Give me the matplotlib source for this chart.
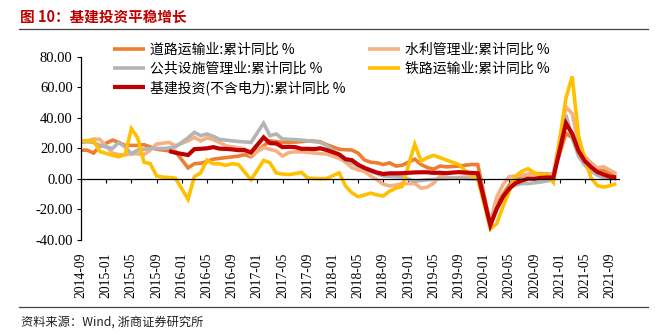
import numpy as np
import pandas as pd
import matplotlib
matplotlib.use("Agg")
import matplotlib.pyplot as plt

plt.rcParams['font.family'] = ['Noto Sans CJK SC', 'DejaVu Sans']

nan = np.nan

# monthly, 2014-09 .. 2021-10 (January has no cumulative figure)
months = pd.period_range('2014-09', '2021-10', freq='M').strftime('%Y-%m').tolist()

road = [18.9, 18.9, 17.0, 21.5,
        nan, 25.5, 24.0, 22.0, 22.0, 22.0, 22.5, 21.0, 19.5, 19.0, 18.5, 18.0,
        nan, 7.3, 10.0, 10.3, 11.5, 13.0, 13.5, 14.0, 14.5, 15.0, 16.0, 14.6,
        nan, 21.8, 25.0, 24.5, 24.0, 24.0, 24.2, 24.5, 25.0, 24.8, 24.4, 22.5,
        nan, 19.5, 19.2, 19.0, 17.0, 12.5, 11.0, 10.6, 9.5, 10.6, 8.5, 9.0,
        nan, 13.0, 9.5, 7.5, 6.5, 8.5, 8.0, 8.2, 8.4, 9.0, 9.5, 9.5,
        nan, -30.0, -17.0, -10.0, -4.0, 0.0, 2.0, 3.0, 3.5, 3.5, 3.2, 3.0,
        nan, 30.0, 27.0, 17.0, 12.0, 9.0, 6.5, 5.5, 4.0, 3.0]

water = [24.0, 25.0, 26.2, 26.0,
         nan, 17.0, 16.0, 16.0, 16.5, 16.5, 16.0, 19.0, 22.9, 23.5, 24.0, 21.8,
         nan, 25.0, 27.3, 25.0, 27.0, 25.8, 24.0, 21.8, 21.0, 20.5, 19.5, 15.5,
         nan, 20.6, 19.5, 18.4, 15.0, 17.3, 17.8, 17.8, 17.5, 17.0, 16.6, 16.4,
         nan, 13.5, 11.0, 7.5, 6.0, 5.0, 2.0, -0.5, -3.5, -4.5, -4.0, -3.0,
         nan, -3.0, -6.0, -5.3, -2.7, 1.8, 1.0, 0.6, 1.0, 1.3, 1.3, 1.0,
         nan, -28.0, -12.0, -3.8, 1.5, 2.0, 2.5, 3.0, 3.0, 3.0, 3.0, 3.5,
         nan, 47.3, 42.9, 22.9, 15.0, 10.6, 7.3, 8.0, 5.8, 3.5]

public = [24.0, 24.4, 24.0, 22.0,
          nan, 20.0, 24.0, 21.0, 16.5, 19.0, 19.5, 20.0, 20.0, 20.0, 20.3, 21.0,
          nan, 27.0, 30.6, 28.4, 29.5, 28.0, 26.0, 25.5, 25.0, 24.6, 24.3, 24.0,
          nan, 36.6, 28.4, 29.5, 26.2, 26.0, 25.8, 25.5, 25.0, 24.5, 24.0, 22.0,
          nan, 15.5, 12.5, 10.5, 8.5, 7.0, 5.0, 3.5, 2.0, 1.8, 1.5, 1.3,
          nan, -1.5, -1.0, -0.5, -0.3, 0.0, 0.2, 0.5, 0.6, 0.3, 0.0, -0.2,
          nan, -29.0, -19.0, -12.0, -5.5, -4.0, -3.0, -3.0, -2.5, -2.0, -1.3, -0.5,
          nan, 42.0, 27.0, 15.0, 9.0, 5.0, 2.5, 1.0, 0.5, 0.0]

rail = [25.0, 25.0, 25.0, 18.0,
        nan, 15.5, 14.6, 16.0, 33.0, 27.0, 11.0, 10.0, 2.0, 1.2, 1.0, 0.5,
        nan, -13.3, 1.5, 4.0, 12.4, 10.0, 10.0, 9.0, 10.0, 9.5, 4.5, -0.5,
        nan, 12.2, 10.6, 4.0, 3.2, 2.9, 3.5, 4.4, 0.6, 0.4, 0.2, 0.3,
        nan, 4.0, -4.5, -9.0, -11.6, -10.5, -9.3, -10.4, -11.1, -8.0, -6.0, -5.0,
        nan, 22.9, 11.8, 14.0, 15.5, 14.0, 12.5, 11.0, 9.5, 5.5, 2.5, 0.5,
        nan, -32.7, -29.3, -18.2, -8.2, 1.8, 5.1, 6.7, 4.0, 2.9, 2.9, -2.2,
        nan, 52.9, 67.3, 28.4, 12.9, 0.7, -4.4, -5.3, -4.4, -3.1]

infra = [nan, nan, nan, nan,
         nan, nan, nan, nan, nan, nan, nan, nan, nan, nan, 18.3, 17.2,
         nan, 15.7, 19.6, 19.8, 20.1, 20.9, 19.9, 19.7, 19.4, 18.9, 18.9, 17.4,
         nan, 27.3, 23.5, 23.3, 20.9, 21.1, 20.9, 19.8, 19.8, 19.6, 20.1, 19.0,
         nan, 16.1, 13.0, 12.4, 9.4, 7.3, 5.7, 4.2, 3.3, 3.7, 3.7, 3.8,
         nan, 4.3, 4.4, 4.4, 4.0, 4.1, 3.8, 4.2, 4.5, 4.2, 4.0, 3.8,
         nan, -30.3, -19.7, -11.8, -6.3, -2.7, -1.0, 0.2, 0.2, 0.7, 1.0, 0.9,
         nan, 36.6, 29.7, 18.4, 11.8, 7.8, 4.6, 2.9, 1.5, 1.0]

series = [
    ('道路运输业:累计同比 %', road, '#ED7D31', 2.6),
    ('水利管理业:累计同比 %', water, '#F4B183', 2.6),
    ('公共设施管理业:累计同比 %', public, '#B4B4B4', 2.6),
    ('铁路运输业:累计同比 %', rail, '#FFC000', 2.6),
    ('基建投资(不含电力):累计同比 %', infra, '#C00000', 3.0),
]

fig = plt.figure(figsize=(6.59, 3.35), dpi=100)
ax = fig.add_axes([0.1229, 0.2836, 0.8161, 0.5463])

# x axis sits on the zero line; labels are pushed down below -40
for s in ('top', 'right'):
    ax.spines[s].set_visible(False)
ax.spines['bottom'].set_position(('data', 0))
ax.spines['bottom'].set_linewidth(0.9)
ax.spines['left'].set_linewidth(0.9)

x = np.arange(len(months))
lines = {}
for name, vals, color, lw in series:
    v = np.array(vals, dtype=float)
    ok = ~np.isnan(v)
    ln, = ax.plot(x[ok], v[ok], color=color, lw=lw, label=name,
                  solid_joinstyle='miter', solid_capstyle='butt')
    lines[name] = ln

ax.set_xlim(0, 85.4)
ax.set_ylim(-40, 80)
yt = np.arange(-40, 81, 20)
ax.set_yticks(yt)
ax.set_yticklabels([f'{v:.2f}' for v in yt], family='Liberation Serif', fontsize=10.5)

xt = x[::4]
ax.set_xticks(xt)
ax.set_xticklabels([months[i] for i in xt], family='Liberation Serif', fontsize=9.8)
ax.tick_params(axis='y', length=3, width=0.8, pad=3)
ax.tick_params(axis='x', length=3, width=0.8, pad=50, labelrotation=90)

names = [s[0] for s in series]
order = [names[0], names[2], names[4], names[1], names[3]]
fig.legend([lines[n] for n in order], order, loc='upper left',
           bbox_to_anchor=(0.172, 0.872), ncol=2, frameon=False, fontsize=10,
           handlelength=2.3, handletextpad=0.35, labelspacing=0.34,
           columnspacing=1.6, borderpad=0, borderaxespad=0)

fig.text(0.031, 0.950, '图 10：基建投资平稳增长', color='#C00000', fontsize=10.5,
         fontweight='bold', va='center', ha='left')
fig.add_artist(plt.Line2D([0.029, 0.984], [0.912, 0.912], color='#444444', lw=0.9))
fig.add_artist(plt.Line2D([0.029, 0.984], [0.085, 0.085], color='#444444', lw=0.9))
fig.text(0.032, 0.037, '资料来源：Wind, 浙商证券研究所', color='#222222', fontsize=8.8,
         va='center', ha='left')

fig.savefig('out.png', dpi=100)
